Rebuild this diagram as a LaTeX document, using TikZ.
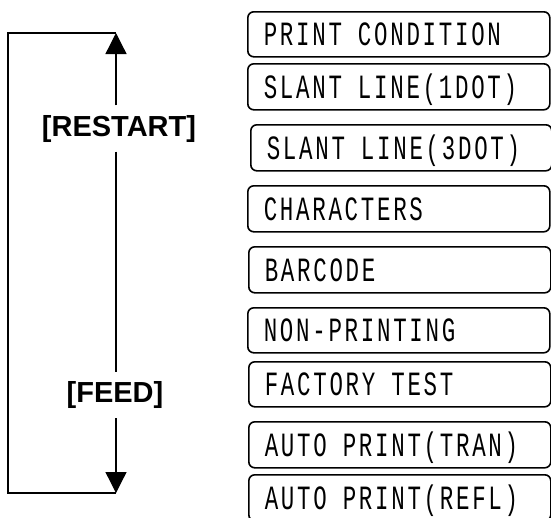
\documentclass[tikz,border=0pt]{standalone}
\usepackage{fontspec}
\setmainfont{Liberation Sans}
\newfontfamily\lcdfont[FakeStretch=0.66,LetterSpace=8]{Liberation Mono}
\usetikzlibrary{arrows.meta}
\begin{document}
\begin{tikzpicture}[x=1pt,y=-1pt,
  menubox/.style={draw, line width=1.6pt, rounded corners=6pt, anchor=north west,
    minimum height=45pt, text width=270pt, inner xsep=16pt, inner ysep=0pt,
    align=left, text height=23pt, text depth=0pt,
    font=\lcdfont\fontsize{34}{34}\selectfont,
    execute at begin node={\spaceskip=16pt\relax}},
  keylabel/.style={font=\bfseries\fontsize{29}{29}\selectfont, inner xsep=2pt, inner ysep=9.5pt},
  conn/.style={line width=1.3pt},
  loopline/.style={line width=1.8pt},
  tip/.style={-{Triangle[width=21pt,length=21pt]}}]
\clip (0,0) rectangle (551,517);
\fill[white] (0,0) rectangle (551,517);

\node[menubox, minimum height=45pt] (b1) at (247,11) {PRINT CONDITION};
\node[menubox, minimum height=46pt] (b2) at (247,63) {SLANT LINE(1DOT)};
\node[menubox, minimum height=46pt, text width=269pt] (b3) at (250,124) {SLANT LINE(3DOT)};
\node[menubox, minimum height=46pt] (b4) at (247,185) {CHARACTERS};
\node[menubox, minimum height=46pt] (b5) at (248,246) {BARCODE};
\node[menubox, minimum height=45pt] (b6) at (247,307) {NON-PRINTING};
\node[menubox, minimum height=45pt] (b7) at (248,361) {FACTORY TEST};
\node[menubox, minimum height=46pt] (b8) at (248,421) {AUTO PRINT(TRAN)};
\node[menubox, minimum height=46pt] (b9) at (248,474) {AUTO PRINT(REFL)};

\coordinate (top) at (116,33);
\coordinate (bot) at (116,493);
\coordinate (tl) at (8,33);
\coordinate (bl) at (8,493);

\node[keylabel] (restart) at (119,128.5) {[RESTART]};
\node[keylabel] (feed) at (115,395) {[FEED]};

\draw[conn, tip] (restart.north -| top) -- (top);
\draw[conn] (restart.south -| top) -- (feed.north -| top);
\draw[conn, tip] (feed.south -| top) -- (bot);
\draw[loopline] (bot) -- (bl) -- (tl) -- (top);
\end{tikzpicture}
\end{document}
